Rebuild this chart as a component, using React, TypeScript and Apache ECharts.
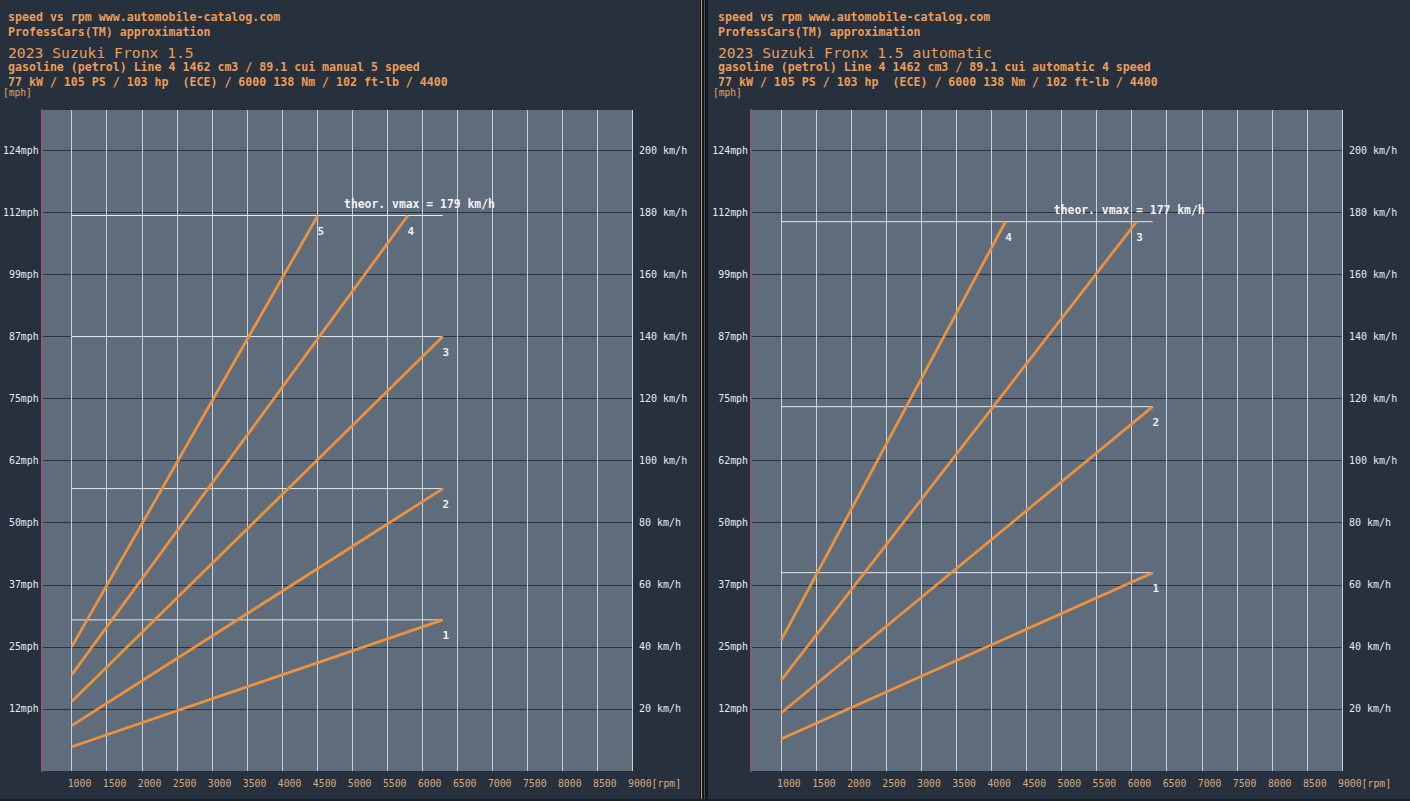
import React, { useEffect, useRef } from 'react';
import * as echarts from 'echarts';

// ---------- data ----------
const rpmTicks = [1000, 1500, 2000, 2500, 3000, 3500, 4000, 4500, 5000, 5500, 6000, 6500, 7000, 7500, 8000, 8500, 9000];
const kmhTicks = [20, 40, 60, 80, 100, 120, 140, 160, 180, 200];

const startRpm = 1000;
const shiftRpmRange = [1000, 6300];

const leftGearNames = ['1', '2', '3', '4', '5'];
const leftGearStartKmh = [7.8, 14.6, 22.4, 31.0, 40.0];
const leftGearEndRpm = [6300, 6300, 6300, 5800, 4514];
const leftGearEndKmh = [48.7, 91, 140, 179, 179];
const leftShiftKmh = [48.7, 91, 140];
const leftVmax = 179;

const rightGearNames = ['1', '2', '3', '4'];
const rightGearStartKmh = [10.3, 18.7, 29.2, 42.1];
const rightGearEndRpm = [6300, 6300, 6071, 4200];
const rightGearEndKmh = [63.9, 117.4, 177, 177];
const rightShiftKmh = [63.9, 117.4];
const rightVmax = 177;

const leftHeader = [
  'speed vs rpm www.automobile-catalog.com',
  'ProfessCars(TM) approximation',
  '2023 Suzuki Fronx 1.5',
  'gasoline (petrol) Line 4 1462 cm3 / 89.1 cui manual 5 speed',
  '77 kW / 105 PS / 103 hp  (ECE) / 6000 138 Nm / 102 ft-lb / 4400',
];
const rightHeader = [
  'speed vs rpm www.automobile-catalog.com',
  'ProfessCars(TM) approximation',
  '2023 Suzuki Fronx 1.5 automatic',
  'gasoline (petrol) Line 4 1462 cm3 / 89.1 cui automatic 4 speed',
  '77 kW / 105 PS / 103 hp  (ECE) / 6000 138 Nm / 102 ft-lb / 4400',
];

// ---------- styles ----------
const MONO = '"DejaVu Sans Mono", monospace';
const PANEL_BG = '#26313d';
const PLOT_BG = '#5e6c7b';
const ORANGE_TEXT = '#eb9c57';
const GEAR_COLOR = '#ec9140';
const SHIFT_COLOR = '#e4eaee';
const H_GRID = '#2a3440';
const V_GRID = '#c8d2dd';
const AXIS_TEXT = '#e6eaee';
const XLABEL = '#d8a97c';

const PANEL_OFFSETS = [0, 710];

function buildPanel(i: number, names: string[], startKmh: number[], endRpm: number[], endKmh: number[], shifts: number[], vmax: number) {
  const series: any[] = [];
  shifts.forEach((v) => {
    series.push({
      type: 'line',
      xAxisIndex: i,
      yAxisIndex: i * 2,
      data: [[shiftRpmRange[0], v], [shiftRpmRange[1], v]],
      lineStyle: { color: SHIFT_COLOR, width: 1 },
      symbol: 'none',
      silent: true,
      z: 3,
    });
  });
  series.push({
    type: 'line',
    xAxisIndex: i,
    yAxisIndex: i * 2,
    data: [
      [shiftRpmRange[0], vmax],
      {
        value: [shiftRpmRange[1], vmax],
        label: {
          show: true,
          formatter: `theor. vmax = ${vmax} km/h`,
          position: 'top',
          align: 'right',
          offset: [52, 0],
          distance: 6,
          color: '#f2f2f2',
          fontFamily: MONO,
          fontWeight: 'bold',
          fontSize: 11.4,
        },
      },
    ],
    lineStyle: { color: SHIFT_COLOR, width: 1 },
    symbol: 'circle',
    symbolSize: 1,
    showSymbol: true,
    itemStyle: { color: 'rgba(0,0,0,0)' },
    label: { show: false },
    silent: true,
    z: 3,
  });
  names.forEach((name, g) => {
    series.push({
      type: 'line',
      xAxisIndex: i,
      yAxisIndex: i * 2,
      data: [
        [startRpm, startKmh[g]],
        {
          value: [endRpm[g], endKmh[g]],
          label: {
            show: true,
            formatter: name,
            position: 'bottom',
            distance: 10,
            offset: [3, 0],
            color: '#eeeeee',
            fontFamily: MONO,
            fontWeight: 'bold',
            fontSize: 11,
          },
        },
      ],
      lineStyle: { color: GEAR_COLOR, width: 2.8 },
      symbol: 'circle',
      symbolSize: 1,
      showSymbol: true,
      itemStyle: { color: 'rgba(0,0,0,0)' },
      label: { show: false },
      silent: true,
      z: 5,
    });
  });
  return series;
}

function headerGraphics(lines: string[], ox: number) {
  const ys = [17, 32, 52, 67, 82];
  const fonts = [
    `bold 11.6px ${MONO}`,
    `bold 11.6px ${MONO}`,
    `14.7px ${MONO}`,
    `bold 11.6px ${MONO}`,
    `bold 11.6px ${MONO}`,
  ];
  const els: any[] = lines.map((t, k) => ({
    type: 'text',
    x: ox + 8,
    y: ys[k],
    silent: true,
    style: { text: t, fill: ORANGE_TEXT, font: fonts[k], textVerticalAlign: 'middle', textAlign: 'left' },
  }));
  els.push({
    type: 'text',
    x: ox + 3,
    y: 92,
    silent: true,
    style: { text: '[mph]', fill: '#e3a06a', font: `9.6px ${MONO}`, textVerticalAlign: 'middle', textAlign: 'left' },
  });
  return els;
}

export default function App() {
  const ref = useRef<HTMLDivElement>(null);
  useEffect(() => {
    document.body.style.margin = '0';
    if (!ref.current) return;
    const chart = echarts.init(ref.current, undefined, { renderer: 'svg' });

    const grids = PANEL_OFFSETS.map((ox) => ({
      left: ox + 41,
      top: 110,
      width: 591,
      height: 661,
      show: true,
      backgroundColor: PLOT_BG,
      borderWidth: 0,
    }));

    const xAxes = PANEL_OFFSETS.map((_, i) => ({
      type: 'value',
      gridIndex: i,
      min: 571,
      max: 9000,
      axisLine: { show: false },
      axisTick: { show: false, customValues: rpmTicks },
      splitLine: { show: true, lineStyle: { color: V_GRID, width: 1 } },
      axisLabel: {
        customValues: rpmTicks,
        showMinLabel: true,
        showMaxLabel: true,
        align: 'left',
        padding: [0, 0, 0, -4],
        color: XLABEL,
        fontFamily: MONO,
        fontSize: 9.8,
        margin: 7,
        formatter: (v: number) => (v === 9000 ? '9000[rpm]' : String(v)),
      },
    }));

    const yAxes: any[] = [];
    PANEL_OFFSETS.forEach((_, i) => {
      yAxes.push({
        type: 'value',
        gridIndex: i,
        position: 'left',
        min: 0,
        max: 213,
        axisLine: { show: true, lineStyle: { color: '#8a5a70', width: 2 } },
        axisTick: { show: false, customValues: kmhTicks },
        splitLine: { show: true, lineStyle: { color: H_GRID, width: 1 } },
        axisLabel: {
          customValues: kmhTicks,
          color: AXIS_TEXT,
          fontFamily: MONO,
          fontSize: 9.9,
          margin: 3,
          formatter: (v: number) => Math.round(v * 0.621371) + 'mph',
        },
      });
      yAxes.push({
        type: 'value',
        gridIndex: i,
        position: 'right',
        min: 0,
        max: 213,
        axisLine: { show: false },
        axisTick: { show: false, customValues: kmhTicks },
        splitLine: { show: false },
        axisLabel: {
          customValues: kmhTicks,
          color: AXIS_TEXT,
          fontFamily: MONO,
          fontSize: 10,
          margin: 7,
          formatter: (v: number) => v + ' km/h',
        },
      });
    });

    const series = [
      ...buildPanel(0, leftGearNames, leftGearStartKmh, leftGearEndRpm, leftGearEndKmh, leftShiftKmh, leftVmax),
      ...buildPanel(1, rightGearNames, rightGearStartKmh, rightGearEndRpm, rightGearEndKmh, rightShiftKmh, rightVmax),
    ];

    const graphic: any[] = [
      { type: 'rect', z: -10, silent: true, shape: { x: 0, y: 0, width: 700, height: 801 }, style: { fill: PANEL_BG } },
      { type: 'rect', z: -10, silent: true, shape: { x: 708, y: 0, width: 702, height: 801 }, style: { fill: PANEL_BG } },
      { type: 'rect', z: -10, silent: true, shape: { x: 700, y: 0, width: 8, height: 801 }, style: { fill: '#14181e' } },
      { type: 'rect', z: -9, silent: true, shape: { x: 701, y: 0, width: 1, height: 801 }, style: { fill: '#b9a478' } },
      { type: 'rect', z: -9, silent: true, shape: { x: 704, y: 0, width: 1, height: 801 }, style: { fill: '#4a5058' } },
      { type: 'rect', z: -9, silent: true, shape: { x: 0, y: 799, width: 1410, height: 2 }, style: { fill: '#1a2029' } },
      ...headerGraphics(leftHeader, PANEL_OFFSETS[0]),
      ...headerGraphics(rightHeader, PANEL_OFFSETS[1]),
    ];

    chart.setOption({
      animation: false,
      backgroundColor: PANEL_BG,
      grid: grids,
      xAxis: xAxes,
      yAxis: yAxes,
      series,
      graphic,
    });
    return () => chart.dispose();
  }, []);
  return <div ref={ref} style={{ width: 1410, height: 801 }} />;
}
